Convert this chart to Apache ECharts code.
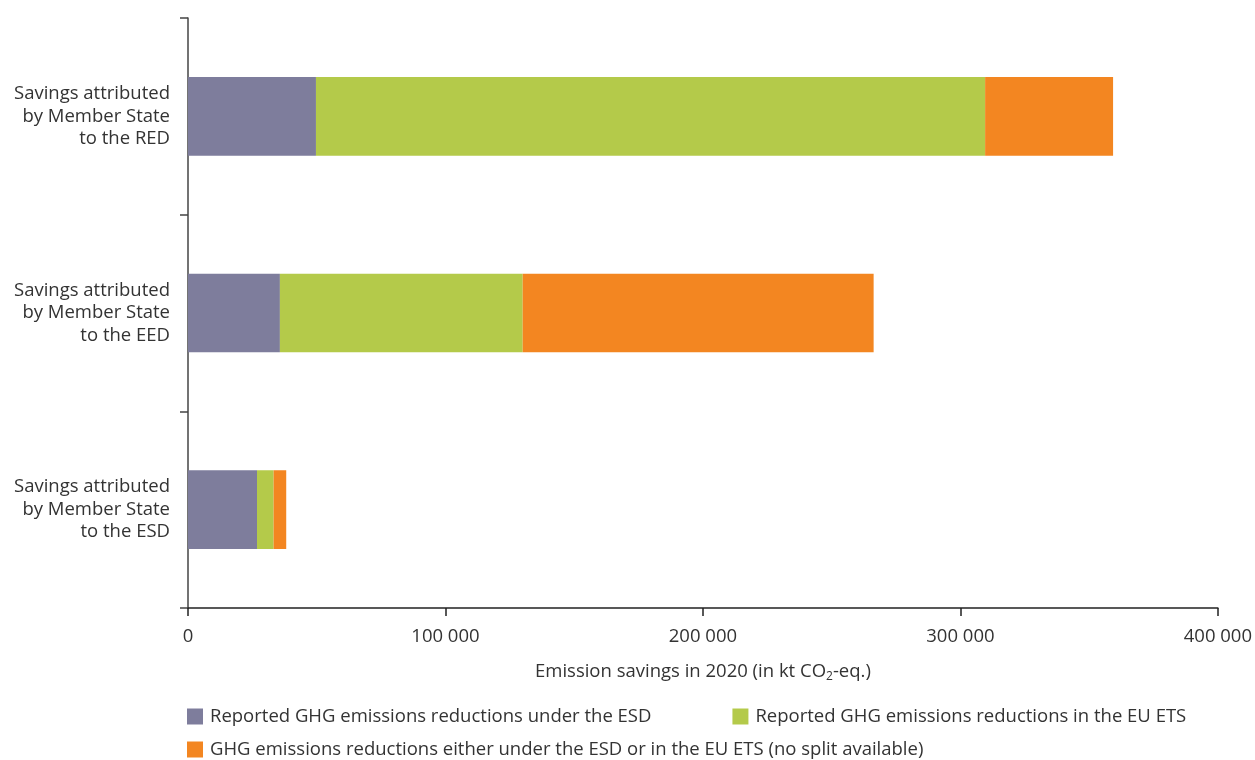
<!DOCTYPE html>
<html><head><meta charset="utf-8">
<script src="https://cdn.jsdelivr.net/npm/echarts@6/dist/echarts.min.js"></script>
<style>html,body{margin:0;padding:0;background:#fff}#c{width:1255px;height:760px}</style>
</head><body><div id="c"></div>
<script>
const categories = ['Savings attributed\nby Member State\nto the RED', 'Savings attributed\nby Member State\nto the EED', 'Savings attributed\nby Member State\nto the ESD'];
const seriesNames = ['Reported GHG emissions reductions under the ESD', 'Reported GHG emissions reductions in the EU ETS', 'GHG emissions reductions either under the ESD or in the EU ETS (no split available)'];
const esdValues = [49700, 35700, 26800];
const etsValues = [259900, 94300, 6450];
const noSplitValues = [49700, 136300, 4900];
const xTicks = [0, 100000, 200000, 300000, 400000];
const colors = ['#7e7d9c', '#b4ca4a', '#f38621'];
const font = 'Open Sans';
const txt = '#333333';
const fs = 18.5;

const chart = echarts.init(document.getElementById('c'), null, {renderer: 'canvas'});
const mk = (name, data, color) => ({
  name, type: 'bar', stack: 'total', data, barWidth: '40%',
  itemStyle: {color}, emphasis: {disabled: true}
});
chart.setOption({
  animation: false,
  textStyle: {fontFamily: font, color: txt},
  grid: {left: 188, right: 36, top: 18, bottom: 152, containLabel: false},
  xAxis: {
    type: 'value', min: xTicks[0], max: xTicks[xTicks.length - 1], interval: 100000,
    axisLine: {show: true, lineStyle: {color: '#222', width: 1.5}},
    axisTick: {show: true, length: 8, lineStyle: {color: '#222', width: 1.5}},
    splitLine: {show: false},
    axisLabel: {fontFamily: font, fontSize: fs, color: txt, margin: 19,
      formatter: v => String(v).replace(/\B(?=(\d{3})+(?!\d))/g, ' ')},
    name: 'Emission savings in 2020 (in kt CO{sub|2}-eq.)',
    nameLocation: 'middle', nameGap: 53,
    nameTextStyle: {fontFamily: font, fontSize: fs, color: txt,
      rich: {sub: {fontSize: 12, verticalAlign: 'bottom', padding: [10, 0, 0, 0], fontFamily: font, color: txt}}}
  },
  yAxis: {
    type: 'category', data: categories, inverse: true,
    axisLine: {show: true, lineStyle: {color: '#444', width: 1.5}},
    axisTick: {show: true, length: 8, lineStyle: {color: '#444', width: 1.5}},
    axisLabel: {fontFamily: font, fontSize: fs, color: txt, lineHeight: 22.5, align: 'right', margin: 18}
  },
  legend: [
    {data: [seriesNames[0], seriesNames[1]], left: 187, top: 707, orient: 'horizontal', padding: 0,
     icon: 'rect', itemWidth: 16, itemHeight: 16, itemGap: 81,
     textStyle: {fontFamily: font, fontSize: fs, color: txt, padding: [0, 0, 0, 2]}},
    {data: [seriesNames[2]], left: 187, top: 740, orient: 'horizontal', padding: 0,
     icon: 'rect', itemWidth: 16, itemHeight: 16,
     textStyle: {fontFamily: font, fontSize: fs, color: txt, padding: [0, 0, 0, 2]}}
  ],
  series: [
    mk(seriesNames[0], esdValues, colors[0]),
    mk(seriesNames[1], etsValues, colors[1]),
    mk(seriesNames[2], noSplitValues, colors[2])
  ]
});
</script></body></html>
